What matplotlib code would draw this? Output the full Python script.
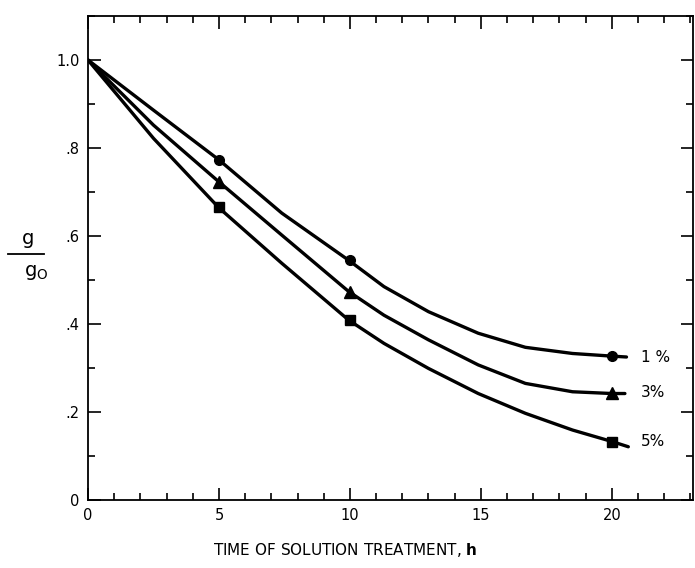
import matplotlib
matplotlib.use("Agg")
import matplotlib.pyplot as plt
from matplotlib.lines import Line2D
from matplotlib.ticker import MultipleLocator, FixedLocator

# measured points (hours, g/g0)
MARK_X = [5, 10, 20]
MARK_1 = [0.773, 0.545, 0.327]
MARK_3 = [0.723, 0.473, 0.243]
MARK_5 = [0.666, 0.409, 0.132]

# hand-drawn curves
CURVE_X = [0, 2.5, 5, 7.4, 9.95, 11.3, 13.0, 14.9, 16.7, 18.5, 20.0]
CURVE_1 = [1.0, 0.886, 0.773, 0.652, 0.545, 0.485, 0.428, 0.379, 0.347, 0.333, 0.327]
CURVE_3 = [1.0, 0.852, 0.723, 0.602, 0.474, 0.420, 0.364, 0.307, 0.265, 0.246, 0.242]
CURVE_5 = [1.0, 0.822, 0.664, 0.538, 0.409, 0.356, 0.299, 0.242, 0.197, 0.159, 0.133]
END_X = [20.56, 20.5, 20.63]
END_Y = [0.325, 0.242, 0.121]

LABELS = ["1 %", "3%", "5%"]
LABEL_Y = [0.325, 0.245, 0.132]

Y_TICKS = [0, 0.2, 0.4, 0.6, 0.8, 1.0]
Y_TICKLABELS = ["0", ".2", ".4", ".6", ".8", "1.0"]
X_TICKS = [0, 5, 10, 15, 20]

fig = plt.figure(figsize=(6.95, 5.68), dpi=100)
ax = fig.add_axes([88 / 695, 68 / 568, (693 - 88) / 695, (500 - 16) / 568])

lw = 2.4
for cy, ex, ey in zip([CURVE_1, CURVE_3, CURVE_5], END_X, END_Y):
    ax.plot(CURVE_X + [ex], cy + [ey], color="black", lw=lw,
            solid_joinstyle="round", solid_capstyle="round")
ax.plot(MARK_X, MARK_1, "o", color="black", ms=7)
ax.plot(MARK_X, MARK_3, "^", color="black", ms=8)
ax.plot(MARK_X, MARK_5, "s", color="black", ms=7)

for lab, yv in zip(LABELS, LABEL_Y):
    ax.text(21.1, yv, lab, fontsize=11, va="center", ha="left")

ax.set_xlim(0, 23.1)
ax.set_ylim(0, 1.1)
ax.xaxis.set_major_locator(FixedLocator(X_TICKS))
ax.xaxis.set_minor_locator(MultipleLocator(1))
ax.yaxis.set_major_locator(FixedLocator(Y_TICKS))
ax.yaxis.set_minor_locator(MultipleLocator(0.1))
ax.set_yticklabels(Y_TICKLABELS)
ax.tick_params(which="both", direction="in", top=True, right=True,
               labelsize=10.5, width=1.2)
ax.tick_params(which="major", length=9, pad=6)
ax.tick_params(which="minor", length=5)
for s in ax.spines.values():
    s.set_linewidth(1.3)

# y label as a stacked fraction g / g0
fig.text(28 / 695, 1 - 238 / 568, "g", fontsize=14, ha="center", va="center")
fig.add_artist(Line2D([8 / 695, 44 / 695], [1 - 254 / 568, 1 - 254 / 568],
                      color="black", lw=1.3))
fig.text(36 / 695, 1 - 272 / 568, r"g$_{\mathrm{O}}$", fontsize=14,
         ha="center", va="center")

fig.text(345 / 695, 1 - 550 / 568, r"TIME OF SOLUTION TREATMENT, $\mathbf{h}$",
         fontsize=11, ha="center", va="center")

fig.savefig("out.png", dpi=100)
